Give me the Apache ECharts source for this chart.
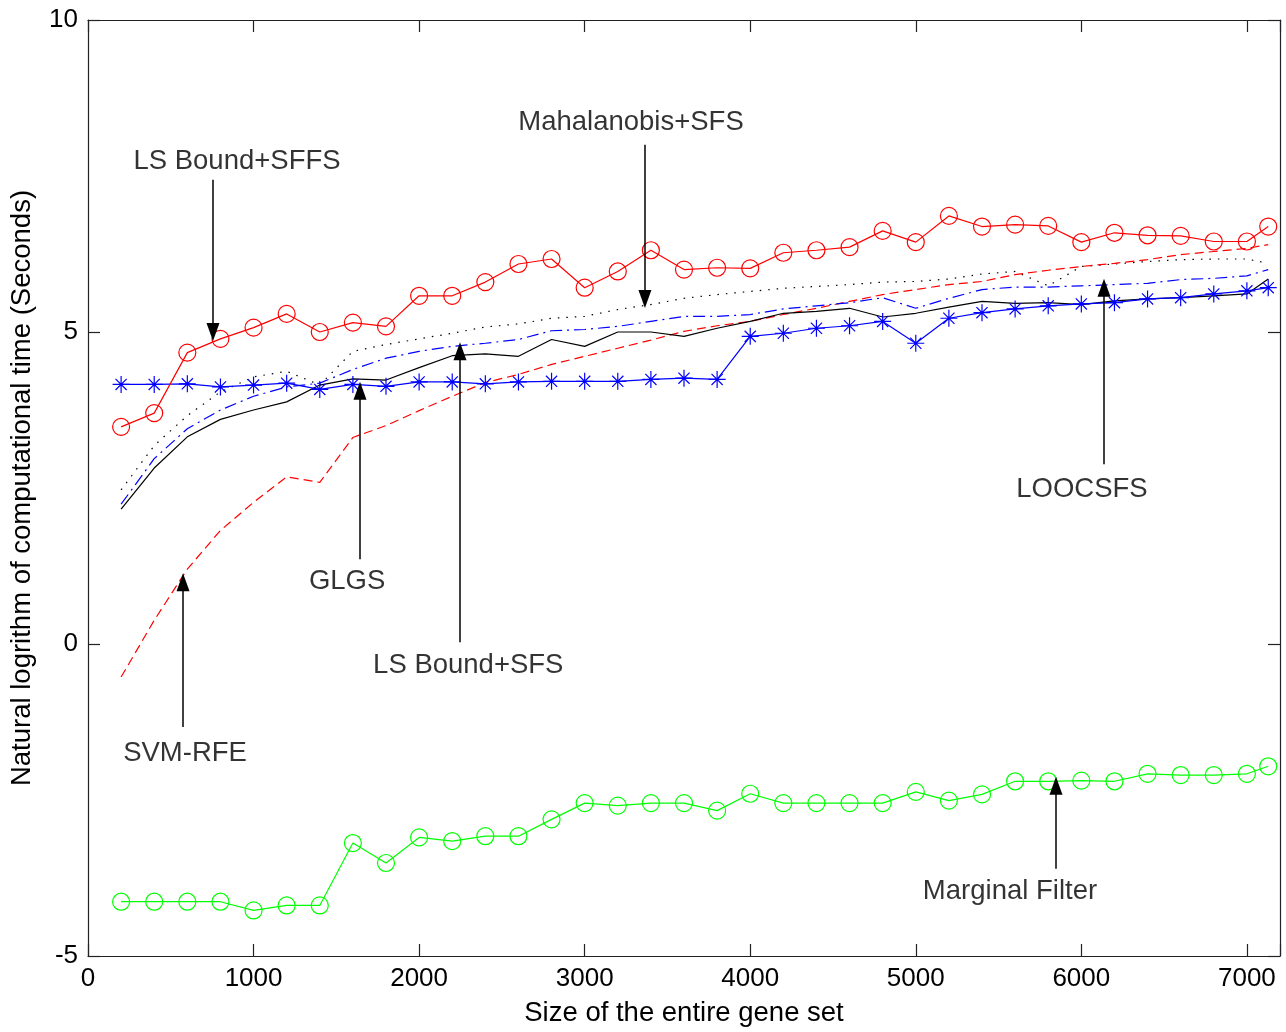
<!DOCTYPE html>
<html>
<head>
<meta charset="utf-8">
<script src="https://cdn.jsdelivr.net/npm/echarts@6/dist/echarts.min.js"></script>
<style>
  html, body { margin: 0; padding: 0; background: #fff; }
  #chart { width: 1286px; height: 1032px; }
</style>
</head>
<body>
<div id="chart"></div>
<script>
// gene set sizes (x)
const geneSizes = [200, 400, 600, 800, 1000, 1200, 1400, 1600, 1800, 2000, 2200, 2400,
  2600, 2800, 3000, 3200, 3400, 3600, 3800, 4000, 4200, 4400, 4600, 4800,
  5000, 5200, 5400, 5600, 5800, 6000, 6200, 6400, 6600, 6800, 7000, 7129];

// natural log of computational time
const lsBoundSffs = [3.48, 3.70, 4.67, 4.89, 5.07, 5.29, 5.00, 5.15, 5.09, 5.58, 5.58, 5.80,
  6.09, 6.17, 5.71, 5.97, 6.31, 6.00, 6.03, 6.02, 6.27, 6.31, 6.36, 6.62,
  6.44, 6.86, 6.69, 6.72, 6.70, 6.44, 6.59, 6.55, 6.54, 6.45, 6.45, 6.69];
const glgs = [4.16, 4.16, 4.17, 4.12, 4.15, 4.18, 4.08, 4.16, 4.13, 4.20, 4.20, 4.17,
  4.20, 4.21, 4.21, 4.21, 4.24, 4.26, 4.24, 4.93, 4.98, 5.06, 5.10, 5.17,
  4.82, 5.22, 5.31, 5.37, 5.42, 5.45, 5.47, 5.53, 5.55, 5.61, 5.66, 5.71];
const lsBoundSfs = [2.16, 2.82, 3.32, 3.60, 3.75, 3.88, 4.15, 4.25, 4.23, 4.43, 4.62, 4.65,
  4.61, 4.88, 4.77, 5.00, 5.00, 4.93, 5.06, 5.17, 5.30, 5.33, 5.38, 5.24,
  5.30, 5.40, 5.49, 5.46, 5.47, 5.44, 5.50, 5.53, 5.55, 5.58, 5.61, 5.85];
const loocsfs = [2.24, 2.97, 3.45, 3.75, 3.97, 4.12, 4.18, 4.40, 4.58, 4.69, 4.77, 4.82,
  4.88, 5.02, 5.04, 5.09, 5.17, 5.25, 5.25, 5.28, 5.37, 5.42, 5.47, 5.55,
  5.38, 5.54, 5.68, 5.72, 5.72, 5.74, 5.76, 5.78, 5.84, 5.86, 5.90, 6.00];
const mahalanobisSfs = [2.47, 3.18, 3.66, 4.04, 4.28, 4.37, 4.15, 4.69, 4.80, 4.89, 4.98, 5.08,
  5.13, 5.22, 5.25, 5.36, 5.44, 5.54, 5.60, 5.65, 5.70, 5.73, 5.76, 5.80,
  5.81, 5.85, 5.93, 5.97, 5.74, 6.05, 6.09, 6.13, 6.16, 6.17, 6.17, 6.10];
const svmRfe = [-0.53, 0.38, 1.20, 1.82, 2.27, 2.68, 2.59, 3.31, 3.50, 3.74, 3.97, 4.19,
  4.32, 4.48, 4.61, 4.74, 4.87, 5.01, 5.10, 5.17, 5.28, 5.38, 5.49, 5.60,
  5.68, 5.76, 5.81, 5.92, 5.99, 6.05, 6.10, 6.16, 6.24, 6.29, 6.34, 6.40];
const marginalFilter = [-4.13, -4.13, -4.13, -4.13, -4.27, -4.19, -4.19, -3.19, -3.51, -3.10, -3.16, -3.08,
  -3.08, -2.81, -2.55, -2.59, -2.55, -2.55, -2.67, -2.40, -2.55, -2.55, -2.55, -2.55,
  -2.37, -2.51, -2.41, -2.20, -2.20, -2.19, -2.20, -2.08, -2.10, -2.10, -2.08, -1.96];

// annotations: text, text position, arrow x, arrow start y, arrow tip y
const noteNames = ['LS Bound+SFFS', 'Mahalanobis+SFS', 'LOOCSFS', 'GLGS', 'LS Bound+SFS', 'SVM-RFE', 'Marginal Filter'];
const noteTextX = [900, 3280, 6004, 1565, 2297, 586, 5569];
const noteTextY = [7.74, 8.36, 2.48, 1.01, -0.34, -1.76, -3.97];
const arrowX = [755, 3364, 6137, 1643, 2247, 574, 5847];
const arrowFrom = [7.44, 8.00, 2.88, 1.36, 0.03, -1.33, -3.60];
const arrowTo = [5.00, 5.53, 5.71, 4.06, 4.69, 0.99, -2.27];

const FONT = '"Liberation Sans", Arial, sans-serif';
const pair = arr => geneSizes.map((x, i) => [x, arr[i]]);
// asterisk marker (plus + x)
const STAR = 'path://M9.3,0h1.4v20h-1.4z M0,9.3h20v1.4h-20z M2.93,3.93L3.93,2.93L17.07,16.07L16.07,17.07Z M16.07,2.93L17.07,3.93L3.93,17.07L2.93,16.07Z';

const chart = echarts.init(document.getElementById('chart'));

function lineSeries(name, data, color, type, symbol) {
  const s = {
    name: name,
    type: 'line',
    data: pair(data),
    lineStyle: { color: color, width: 1.2, type: type },
    symbol: 'none',
    animation: false,
    silent: true
  };
  if (symbol === 'circle') {
    s.symbol = 'circle';
    s.symbolSize = 17;
    s.itemStyle = { color: 'rgba(0,0,0,0)', borderColor: color, borderWidth: 1.2 };
  } else if (symbol === 'star') {
    s.symbol = STAR;
    s.symbolSize = 17;
    s.itemStyle = { color: color, borderWidth: 0 };
  }
  return s;
}

const axisLineStyle = { color: '#222', width: 1.2 };
const tickStyle = { show: true, inside: true, length: 12, lineStyle: axisLineStyle };

const option = {
  backgroundColor: '#fff',
  animation: false,
  grid: { left: 88, right: 6, top: 20, bottom: 74 },
  xAxis: [
    {
      type: 'value', min: 0, max: 7200, interval: 1000, position: 'bottom',
      name: 'Size of the entire gene set', nameLocation: 'middle', nameGap: 43,
      nameTextStyle: { fontFamily: FONT, fontSize: 27.5, color: '#000' },
      axisLine: { show: true, onZero: false, lineStyle: axisLineStyle },
      axisTick: tickStyle,
      axisLabel: { fontFamily: FONT, fontSize: 26, color: '#000', margin: 10,
        formatter: v => (v > 7000 ? '' : String(v)) },
      splitLine: { show: false }
    },
    {
      type: 'value', min: 0, max: 7200, interval: 1000, position: 'top',
      axisLine: { show: true, onZero: false, lineStyle: axisLineStyle },
      axisTick: tickStyle,
      axisLabel: { show: false },
      splitLine: { show: false }
    }
  ],
  yAxis: [
    {
      type: 'value', min: -5, max: 10, interval: 5, position: 'left',
      name: 'Natural logrithm of computational time (Seconds)', nameLocation: 'middle', nameGap: 52,
      nameTextStyle: { fontFamily: FONT, fontSize: 27.5, color: '#000' },
      axisLine: { show: true, onZero: false, lineStyle: axisLineStyle },
      axisTick: tickStyle,
      axisLabel: { fontFamily: FONT, fontSize: 26, color: '#000', margin: 10 },
      splitLine: { show: false }
    },
    {
      type: 'value', min: -5, max: 10, interval: 5, position: 'right',
      axisLine: { show: true, onZero: false, lineStyle: axisLineStyle },
      axisTick: tickStyle,
      axisLabel: { show: false },
      splitLine: { show: false }
    }
  ],
  series: [
    lineSeries('Mahalanobis+SFS', mahalanobisSfs, '#000000', [1.5, 7], null),
    lineSeries('SVM-RFE', svmRfe, '#ff0000', [9, 5], null),
    lineSeries('LOOCSFS', loocsfs, '#0000ff', [12, 5, 2, 5], null),
    lineSeries('LS Bound+SFS', lsBoundSfs, '#000000', 'solid', null),
    lineSeries('GLGS', glgs, '#0000ff', 'solid', 'star'),
    lineSeries('LS Bound+SFFS', lsBoundSffs, '#ff0000', 'solid', 'circle'),
    lineSeries('Marginal Filter', marginalFilter, '#00ff00', 'solid', 'circle'),
    {
      name: 'arrows',
      type: 'line',
      data: [],
      silent: true,
      animation: false,
      markLine: {
        silent: true,
        animation: false,
        symbol: ['none', 'triangle'],
        symbolSize: [13, 18],
        label: { show: false },
        lineStyle: { color: '#000', width: 1.5, type: 'solid' },
        data: arrowX.map((x, i) => [
          { coord: [x, arrowFrom[i]] },
          { coord: [x, arrowTo[i]] }
        ])
      }
    },
    {
      name: 'notes',
      type: 'scatter',
      data: noteNames.map((t, i) => [noteTextX[i], noteTextY[i], t]),
      symbol: 'rect',
      symbolSize: 1,
      silent: true,
      animation: false,
      itemStyle: { color: 'rgba(0,0,0,0)' },
      label: {
        show: true,
        position: 'inside',
        formatter: p => p.data[2],
        fontFamily: FONT,
        fontSize: 27.5,
        color: '#000'
      }
    }
  ]
};

chart.setOption(option);
</script>
</body>
</html>
